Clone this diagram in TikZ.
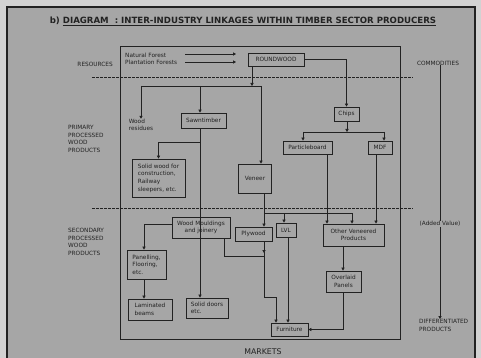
\documentclass[tikz,border=0pt]{standalone}
\usepackage{fontspec}
\setmainfont{DejaVu Sans}
\usetikzlibrary{arrows.meta}
\definecolor{bgout}{HTML}{D2D2D2}
\definecolor{bgin}{HTML}{A6A6A6}
\definecolor{ink}{HTML}{222222}
\tikzset{
  box/.style={draw=ink, line width=0.8pt, inner sep=0pt, align=center,
    font=\fontsize{5.8}{7.6}\selectfont, text=ink},
  lbl/.style={inner sep=0pt, font=\fontsize{5.8}{7.6}\selectfont, text=ink},
  ln/.style={draw=ink, line width=0.8pt},
  arr/.style={ln, -{Triangle[length=3pt,width=3.2pt]}},
  dsh/.style={draw=ink, line width=0.8pt, dash pattern=on 2.5pt off 1.5pt},
}
\begin{document}
\begin{tikzpicture}[x=1pt,y=-1pt]
\useasboundingbox (0,0) rectangle (481,358);
\fill[bgout] (0,0) rectangle (481,358);
\fill[bgin] (7,7) rectangle (475,366);
\draw[ink, line width=1.2pt] (7,366) -- (7,7) -- (475,7) -- (475,366);

% title
\node[lbl, font=\bfseries\fontsize{8.6}{10}\selectfont] (title) at (243,21)
  {b) \underline{DIAGRAM~~: INTER-INDUSTRY LINKAGES WITHIN TIMBER SECTOR PRODUCERS}};

% frame and divisions
\draw[ln] (120,46) rectangle (400,339);
\coordinate (d1a) at (92,77);  \coordinate (d1b) at (413,77);
\coordinate (d2a) at (92,208); \coordinate (d2b) at (413,208);
\draw[dsh] (d1a) -- (d1b);
\draw[dsh] (d2a) -- (d2b);

% side labels
\node[lbl, anchor=east] (res) at (113,64) {RESOURCES};
\node[lbl, anchor=north west, align=left] (prim) at (68,125) {PRIMARY\\PROCESSED\\WOOD\\PRODUCTS};
\node[lbl, anchor=north west, align=left] (sec) at (68,228) {SECONDARY\\PROCESSED\\WOOD\\PRODUCTS};
\node[lbl] (comm) at (438,63) {COMMODITIES};
\node[lbl] (addv) at (440,224) {(Added Value)};
\node[lbl, anchor=north west, align=left] (diff) at (419,319) {DIFFERENTIATED\\PRODUCTS};
\node[lbl, font=\fontsize{7.8}{9}\selectfont] (mkt) at (263,352) {MARKETS};
\draw[ln] (comm.south -| addv) -- (addv.north);
\draw[arr] (addv.south) -- (addv.south |- 0,319);

% resources
\node[lbl, anchor=west, align=left] (forest) at (125,59) {Natural Forest\\Plantation Forests};
\coordinate (f1a) at (185,54); \coordinate (f1b) at (236,54);
\coordinate (f2a) at (185,62); \coordinate (f2b) at (236,62);
\draw[arr] (f1a) -- (f1b);
\draw[arr] (f2a) -- (f2b);

% boxes
\node[box, minimum width=56pt, minimum height=13pt] (round) at (276,59.5) {ROUNDWOOD};
\node[box, minimum width=25pt, minimum height=14pt] (chips) at (346.5,114) {Chips};
\node[lbl, align=left] (resid) at (141,125) {Wood\\residues};
\node[box, minimum width=45pt, minimum height=15pt] (sawn) at (203.5,120.5) {Sawntimber};
\node[box, minimum width=53pt, minimum height=38pt, align=left] (solidw) at (158.5,178) {Solid wood for\\construction,\\Railway\\sleepers, etc.};
\node[box, minimum width=33pt, minimum height=29pt] (veneer) at (255,178.5) {Veneer};
\node[box, minimum width=49pt, minimum height=13pt] (particle) at (307.5,147.5) {Particleboard};
\node[box, minimum width=24pt, minimum height=13pt] (mdf) at (380,147.5) {MDF};
\node[box, fill=bgin, minimum width=58pt, minimum height=21pt] (mould) at (201,227.5) {Wood Mouldings\\and joinery};
\node[box, minimum width=37pt, minimum height=14pt] (ply) at (253.5,234) {Plywood};
\node[box, minimum width=20pt, minimum height=14pt] (lvl) at (286,230) {LVL};
\node[box, minimum width=61pt, minimum height=22pt] (other) at (353.5,235) {Other Veneered\\Products};
\node[box, minimum width=35pt, minimum height=21pt] (overl) at (343.5,281.5) {Overlaid\\Panels};
\node[box, minimum width=39pt, minimum height=29pt, align=left] (panel) at (146.5,264.5) {Panelling,\\Flooring,\\etc.};
\node[box, minimum width=44pt, minimum height=21pt, align=left] (lamin) at (150,309.5) {Laminated\\beams~~~~~~};
\node[box, minimum width=42pt, minimum height=20pt, align=left] (sdoors) at (207,308) {Solid doors\\etc.~~~~~~~~~};
\node[box, minimum width=37pt, minimum height=13pt] (furn) at (289.5,329.5) {Furniture};

% connection helpers
\coordinate (xr) at (252,0);
\coordinate (j0) at (252,86);
\coordinate (jl) at (141,86);
\coordinate (jr) at (261,86);
\coordinate (xs) at (200,0);
\coordinate (j1) at (200,142);
\coordinate (xv) at (264,0);
\coordinate (j2) at (264,213);
\coordinate (xc) at (347,0);
\coordinate (jc) at (347,132);
\coordinate (jcl) at (303,132);
\coordinate (jcr) at (384,132);
\coordinate (xp) at (327,0);
\coordinate (xm) at (376,0);
\coordinate (xo) at (352,0);
\coordinate (xl) at (284,0);
\coordinate (xl2) at (288,0);
\coordinate (xw) at (224,0);
\coordinate (j3) at (264,256);
\coordinate (j4) at (264,297);
\coordinate (xf) at (276,0);
\coordinate (xov) at (343,0);
\coordinate (xpa) at (144,0);

% connectors
\draw[arr] (round.east) -| (chips.north);
\draw[arr] (round.south -| xr) -- (j0);
\draw[ln] (jl) -- (jr);
\draw[arr] (jl) -- (resid.north -| jl);
\draw[arr] (j0 -| xs) -- (sawn.north -| xs);
\draw[arr] (jr) -- (veneer.north -| jr);
\draw[arr] (sawn.south -| xs) -- (sdoors.north -| xs);
\draw[arr] (j1) -| (solidw.north);
\draw[ln] (veneer.south -| xv) -- (j2);
\draw[arr] (j2) -- (ply.north -| xv);
\draw[ln] (j2) -- (j2 -| xo);
\draw[arr] (j2 -| xl) -- (lvl.north -| xl);
\draw[arr] (j2 -| xo) -- (other.north -| xo);
\draw[arr] (particle.south -| xp) -- (other.north -| xp);
\draw[arr] (mdf.south -| xm) -- (other.north -| xm);
\draw[arr] (chips.south -| xc) -- (jc);
\draw[ln] (jcl) -- (jcr);
\draw[arr] (jcl) -- (particle.north -| jcl);
\draw[arr] (jcr) -- (mdf.north -| jcr);
\draw[arr] (mould.west |- 0,224) -| (panel.north -| xpa);
\draw[arr] (panel.south -| xpa) -- (lamin.north -| xpa);
\draw[ln] (mould.south -| xw) |- (j3);
\draw[arr] (ply.south -| xv) -- (xv |- 0,253);
\draw[ln] (xv |- 0,252) -- (j4) -- (j4 -| xf);
\draw[arr] (j4 -| xf) -- (furn.north -| xf);
\draw[arr] (lvl.south -| xl2) -- (furn.north -| xl2);
\draw[arr] (other.south -| xov) -- (overl.north -| xov);
\draw[arr] (overl.south -| xov) |- (furn.east);
\end{tikzpicture}
\end{document}
